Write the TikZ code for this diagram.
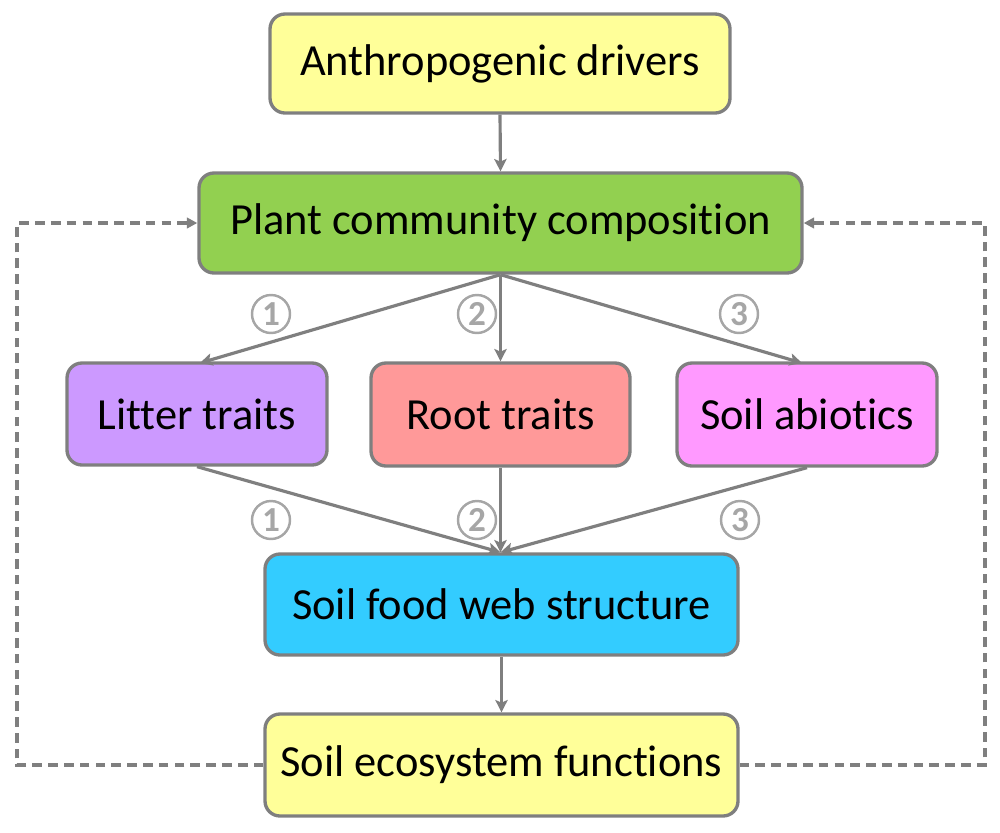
\documentclass[tikz,border=0pt]{standalone}
\usepackage{fontspec}
\setmainfont[Ligatures={NoCommon,NoRare}]{Carlito}
\usetikzlibrary{arrows.meta}
\definecolor{edge}{HTML}{7F7F7F}
\definecolor{numc}{HTML}{A6A6A6}
\definecolor{ylw}{HTML}{FFFF99}
\definecolor{grn}{HTML}{92D050}
\definecolor{prp}{HTML}{CC99FF}
\definecolor{sal}{HTML}{FF9999}
\definecolor{pnk}{HTML}{FF99FF}
\definecolor{cyn}{HTML}{33CCFF}
\tikzset{
  box/.style={draw=edge, line width=1.9pt, rounded corners=0.3cm, inner sep=0pt, font=\fontsize{25.3}{30}\selectfont, text=black},
  conn/.style={draw=edge, line width=1.8pt, -{Stealth[length=7pt,width=7pt,inset=1.5pt]}},
  loop/.style={draw=edge, line width=1.8pt, dash pattern=on 5.5pt off 3.5pt, -{Triangle[length=6pt,width=6pt]}},
  num/.style={circle, draw=numc, line width=1.4pt, minimum size=0.76cm, inner sep=0pt, text=numc, font=\fontsize{20}{20}\selectfont\bfseries},
}
\begin{document}
\begin{tikzpicture}[x=0.02cm, y=-0.02cm]
\useasboundingbox (0,0) rectangle (1000,832);
\node[box, fill=ylw, minimum width=460*0.02cm, minimum height=99*0.02cm] (ad) at (500,63.5) {Anthropogenic drivers};
\node[box, fill=grn, minimum width=603*0.02cm, minimum height=100*0.02cm] (pc) at (500.5,223) {Plant community composition};
\node[box, fill=prp, minimum width=260*0.02cm, minimum height=102*0.02cm] (lt) at (197,414) {Litter traits};
\node[box, fill=sal, minimum width=259*0.02cm, minimum height=103*0.02cm] (rt) at (500.5,414.5) {Root traits};
\node[box, fill=pnk, minimum width=260*0.02cm, minimum height=103*0.02cm] (sa) at (807,414.5) {Soil abiotics};
\node[box, fill=cyn, minimum width=473*0.02cm, minimum height=101*0.02cm] (fw) at (501.5,604.5) {Soil food web structure};
\node[box, fill=ylw, minimum width=473*0.02cm, minimum height=102*0.02cm] (ef) at (501.5,765) {Soil ecosystem functions};
\coordinate (ltin) at (200,363);
\coordinate (sain) at (802,363);
\coordinate (lb) at (17,765);
\coordinate (lt2) at (17,223);
\coordinate (rb) at (985,765);
\coordinate (rt2) at (985,223);
\draw[conn] (ad.south) -- (pc.north);
\draw[conn] (pc.south) -- (ltin);
\draw[conn] (pc.south) -- (rt.north -| pc.south);
\draw[conn] (pc.south) -- (sain);
\draw[conn] (lt.south) -- (fw.north -| pc.south);
\draw[conn] (rt.south) -- (fw.north -| pc.south);
\draw[conn] (sa.south) -- (fw.north -| pc.south);
\draw[conn] (fw.south) -- (ef.north);
\draw[loop] (ef.west) -- (lb) -- (lt2) -- (pc.west);
\draw[loop] (ef.east) -- (rb) -- (rt2) -- (pc.east);
\node[num] (n1a) at (271,314) {1};
\node[num] (n2a) at (477,314) {2};
\node[num] (n3a) at (739,314) {3};
\node[num] (n1b) at (271,520) {1};
\node[num] (n2b) at (477,520) {2};
\node[num] (n3b) at (740,520) {3};
\end{tikzpicture}
\end{document}
